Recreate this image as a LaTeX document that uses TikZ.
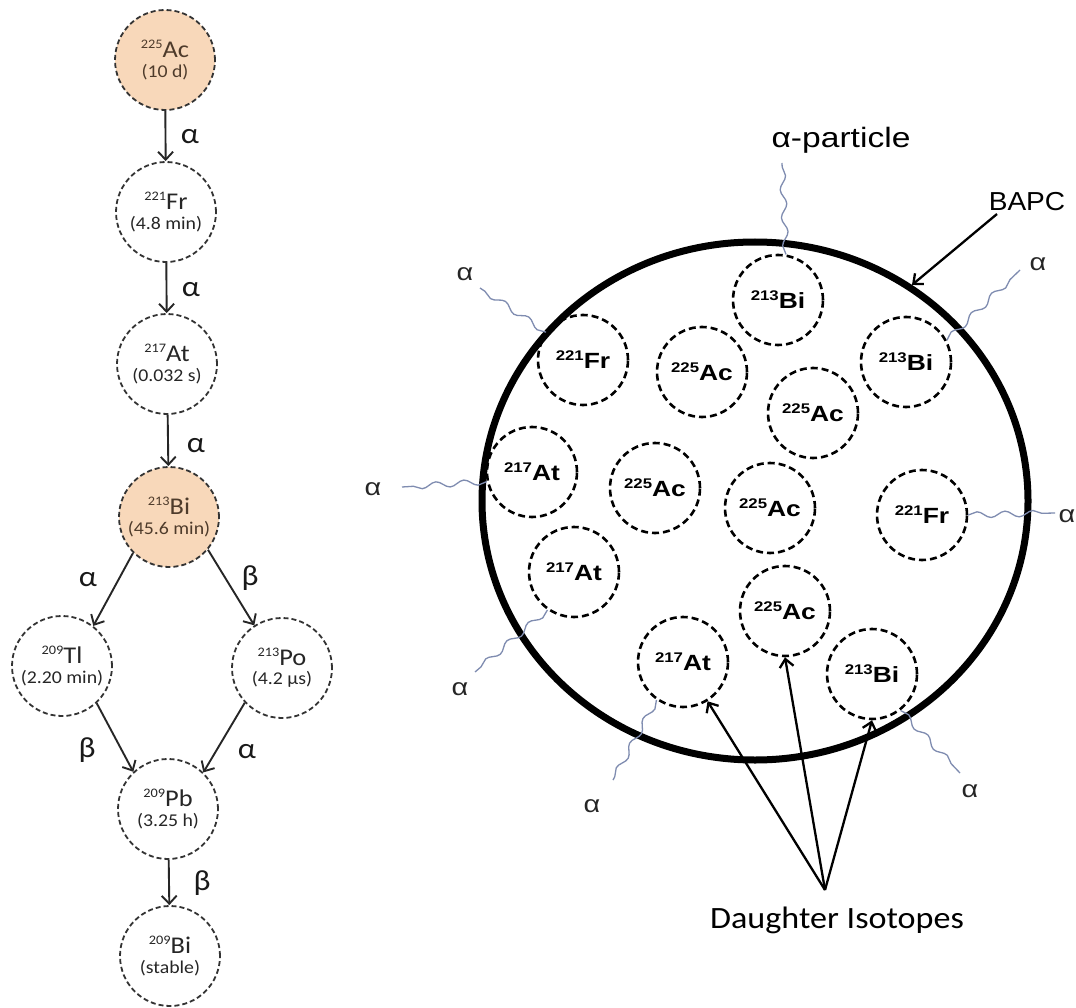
\documentclass[tikz,border=0pt]{standalone}
\usepackage{fontspec}
\setmainfont{Carlito}
\newfontfamily\carlw[FakeStretch=1.1]{Carlito}
\newfontfamily\arialw[FakeStretch=1.2]{Liberation Sans}
\newfontfamily\arialb[FakeStretch=1.08]{Liberation Sans}
\usetikzlibrary{arrows.meta,decorations.pathmorphing,shapes.geometric}
\definecolor{peach}{HTML}{F8D8BA}
\definecolor{wavec}{HTML}{7F8CB0}
\definecolor{chaintext}{HTML}{262626}
\definecolor{brownt}{HTML}{4E3B2B}
\newcommand{\chainiso}[3]{{\carlw\fontsize{24}{25}\selectfont\raisebox{9pt}{\fontsize{13}{13}\selectfont #1}#2}\\[5pt]{\carlw\fontsize{18}{19}\selectfont #3}}
\newcommand{\boxiso}[2]{{\arialw\bfseries\raisebox{8pt}{\fontsize{14}{14}\selectfont #1}\fontsize{22}{22}\selectfont #2}}
\begin{document}
\begin{tikzpicture}[x=1pt,y=-1pt,
  chainnode/.style={circle, draw=black!80, line width=1.8pt, dash pattern=on 5pt off 3pt, minimum size=100pt, inner sep=0pt, align=center, text=chaintext},
  hotnode/.style={chainnode, fill=peach, text=brownt},
  isonode/.style={circle, draw=black, line width=2.6pt, dash pattern=on 7pt off 4pt, minimum size=90pt, inner sep=0pt},
  carr/.style={line width=1.9pt, draw=black!85, -{Straight Barb[length=8pt,width=15pt]}},
  darr/.style={line width=2.3pt, draw=black, -{Straight Barb[length=8pt,width=14pt]}},
  decaylab/.style={inner sep=0pt, text=black!90, font=\carlw\fontsize{29}{29}\selectfont},
  alab/.style={inner sep=0pt, text=black!85, font=\arialw\fontsize{24}{24}\selectfont},
  wavy/.style={draw=wavec, line width=1.3pt, decorate, decoration={snake, amplitude=3pt, segment length=28pt}}
]
\fill[white] (0,0) rectangle (1076,1008);
\useasboundingbox (0,0) rectangle (1076,1008);

% ---------- decay chain ----------
\node[hotnode]   (ac)  at (165,60)  {\chainiso{225}{Ac}{(10 d)}};
\node[chainnode] (fr)  at (166,212) {\chainiso{221}{Fr}{(4.8 min)}};
\node[chainnode] (at)  at (167,364) {\chainiso{217}{At}{(0.032 s)}};
\node[hotnode]   (bi)  at (169,517) {\chainiso{213}{Bi}{(45.6 min)}};
\node[chainnode] (tl)  at (62,666)  {\chainiso{209}{Tl}{(2.20 min)}};
\node[chainnode] (po)  at (282,668) {\chainiso{213}{Po}{(4.2 µs)}};
\node[chainnode] (pb)  at (168,809) {\chainiso{209}{Pb}{(3.25 h)}};
\node[chainnode] (bis) at (170,956) {\chainiso{209}{Bi}{(stable)}};

\draw[carr] (ac) -- (fr);
\draw[carr] (fr) -- (at);
\draw[carr] (at) -- (bi);
\draw[carr] (bi.225) -- (tl.52);
\draw[carr] (bi.-40) -- (po.123);
\draw[carr] (tl.-47) -- (pb.133);
\draw[carr] (po.223) -- (pb.46);
\draw[carr] (pb) -- (bis);

\node[decaylab] (l1) at (190,137) {α};
\node[decaylab] (l2) at (191,290) {α};
\node[decaylab] (l3) at (196,446) {α};
\node[decaylab] (l4) at (88,580)  {α};
\node[decaylab] (l5) at (250,578) {β};
\node[decaylab] (l6) at (87,750)  {β};
\node[decaylab] (l7) at (247,752) {α};
\node[decaylab] (l8) at (202,883) {β};

% ---------- BAPC ----------
\node[draw, ellipse, line width=7pt, minimum width=546pt, minimum height=518pt, inner sep=0pt] (bapc) at (755,501) {};

\node[isonode] (bi1) at (778,300) {\boxiso{213}{Bi}};
\node[isonode] (fr1) at (583,360) {\boxiso{221}{Fr}};
\node[isonode] (ac1) at (702,372) {\boxiso{225}{Ac}};
\node[isonode] (bi2) at (906,362) {\boxiso{213}{Bi}};
\node[isonode] (ac2) at (813,413) {\boxiso{225}{Ac}};
\node[isonode] (at1) at (532,472) {\boxiso{217}{At}};
\node[isonode] (ac3) at (655,488) {\boxiso{225}{Ac}};
\node[isonode] (ac4) at (770,508) {\boxiso{225}{Ac}};
\node[isonode] (fr2) at (922,515) {\boxiso{221}{Fr}};
\node[isonode] (at2) at (574,572) {\boxiso{217}{At}};
\node[isonode] (ac5) at (785,611) {\boxiso{225}{Ac}};
\node[isonode] (at3) at (683,662) {\boxiso{217}{At}};
\node[isonode] (bi3) at (872,674) {\boxiso{213}{Bi}};

% alpha particle tracks
\coordinate (w1) at (782,163);
\coordinate (w2) at (480,288);
\coordinate (w3) at (1020,270);
\coordinate (w4) at (402,487);
\coordinate (w5) at (1055,513);
\coordinate (w6) at (475,672);
\coordinate (w7) at (613,780);
\coordinate (w8) at (960,773);
\draw[wavy] (bi1.80) -- (w1);
\draw[wavy] (fr1.143) -- (w2);
\draw[wavy] (bi2.28) -- (w3);
\draw[wavy] (at1.192) -- (w4);
\draw[wavy] (fr2.east) -- (w5);
\draw[wavy] (at2.235) -- (w6);
\draw[wavy] (at3.235) -- (w7);
\draw[wavy] (bi3.-52) -- (w8);

\node[inner sep=0pt, font=\arialw\fontsize{28}{28}\selectfont] (ap) at (841,140) {α-particle};
\node[alab] (r2) at (465,274) {α};
\node[alab] (r3) at (1038,264) {α};
\node[alab] (r4) at (373,489) {α};
\node[alab] (r5) at (1067,516) {α};
\node[alab] (r6) at (460,689) {α};
\node[alab] (r7) at (592,806) {α};
\node[alab] (r8) at (970,791) {α};

\node[inner sep=0pt, font=\arialb\fontsize{26}{26}\selectfont] (bapclab) at (1027,202) {BAPC};
\coordinate (bstart) at (997,214);
\draw[darr] (bstart) -- (bapc.54);

\node[inner sep=0pt, font=\carlw\fontsize{31}{31}\selectfont] (dlab) at (837,920) {Daughter Isotopes};
\coordinate (apex) at (825,890);
\draw[darr] (apex) -- (at3.-58);
\draw[darr] (apex) -- (ac5.south);
\draw[darr] (apex) -- (bi3.south);
\end{tikzpicture}
\end{document}
